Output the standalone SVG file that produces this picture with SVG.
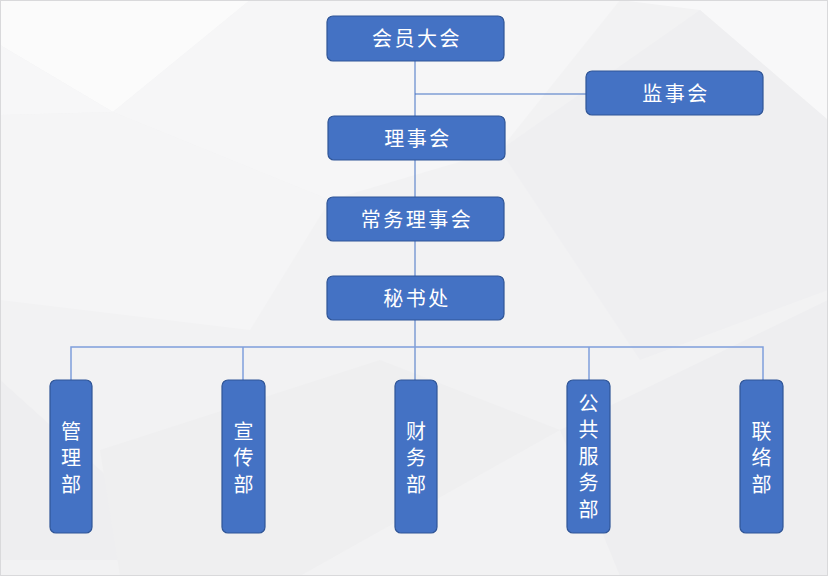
<svg xmlns="http://www.w3.org/2000/svg" width="828" height="576" viewBox="0 0 828 576">
<style>
.box{fill:#4472c4;stroke:#2f5597;stroke-width:1.2}
.t{font-family:"Noto Sans CJK SC","Noto Sans",sans-serif;font-size:20px;fill:#ffffff;text-anchor:middle;dominant-baseline:central;letter-spacing:2.5px}
.v{font-family:"Noto Sans CJK SC","Noto Sans",sans-serif;font-size:20px;fill:#ffffff;text-anchor:middle;writing-mode:vertical-rl;letter-spacing:6.5px}
.ln{fill:none;stroke:#4472c4;stroke-width:1}
.bus{fill:none;stroke:#7f9fdc;stroke-width:1.5}
</style>
<g id="background">
<rect x="0" y="0" width="828" height="576" fill="#f2f2f3"/>
<polygon points="0,0 250,0 113,112 0,45" fill="#fbfbfb"/>
<polygon points="0,45 113,112 0,115" fill="#f7f7f8"/>
<polygon points="250,0 620,0 500,150 330,200 113,112" fill="#f6f6f7"/>
<polygon points="620,0 828,0 828,120 700,10" fill="#f8f8f9"/>
<polygon points="500,150 700,10 828,120 828,290 640,360" fill="#efeff1"/>
<polygon points="0,380 200,560 0,560" fill="#eeeef0"/>
<polygon points="100,450 380,360 560,430 300,576 120,576" fill="#efeff0"/>
<polygon points="560,430 828,300 828,576 620,576" fill="#eeeef0"/>
<polygon points="0,115 113,112 330,200 250,330 0,300" fill="#f5f5f6"/>
<rect x="0.5" y="0.5" width="827" height="575" fill="none" stroke="#d9d9db" stroke-width="1"/>
</g>
<g id="connectors">
<line class="ln" x1="415" y1="61" x2="415" y2="116"/>
<line class="ln" x1="415" y1="94" x2="586" y2="94"/>
<line class="ln" x1="415" y1="160" x2="415" y2="197"/>
<line class="ln" x1="415" y1="241" x2="415" y2="276"/>
<line class="ln" x1="415" y1="320" x2="415" y2="380"/>
<polyline class="bus" points="71,380 71,347 763,347 763,380"/>
<line class="bus" x1="243" y1="347" x2="243" y2="380"/>
<line class="bus" x1="589" y1="347" x2="589" y2="380"/>
</g>
<g id="n1"><rect class="box" x="327" y="16" width="177" height="45" rx="6"/><text class="t" x="417" y="37.5">会员大会</text></g>
<g id="n2"><rect class="box" x="586" y="71" width="177" height="44" rx="6"/><text class="t" x="676" y="92">监事会</text></g>
<g id="n3"><rect class="box" x="328" y="116" width="177" height="44" rx="6"/><text class="t" x="418" y="137">理事会</text></g>
<g id="n4"><rect class="box" x="327" y="197" width="177" height="44" rx="6"/><text class="t" x="417" y="218">常务理事会</text></g>
<g id="n5"><rect class="box" x="327" y="276" width="177" height="44" rx="6"/><text class="t" x="417" y="297">秘书处</text></g>
<g id="n6"><rect class="box" x="50" y="380" width="42" height="153" rx="6"/><text class="v" x="71" y="461">管理部</text></g>
<g id="n7"><rect class="box" x="222" y="380" width="43" height="153" rx="6"/><text class="v" x="243.5" y="461">宣传部</text></g>
<g id="n8"><rect class="box" x="395" y="380" width="42" height="153" rx="6"/><text class="v" x="416" y="461">财务部</text></g>
<g id="n9"><rect class="box" x="567" y="380" width="43" height="153" rx="6"/><text class="v" x="588.5" y="459.5">公共服务部</text></g>
<g id="n10"><rect class="box" x="740" y="380" width="43" height="153" rx="6"/><text class="v" x="761.5" y="461">联络部</text></g>
</svg>
